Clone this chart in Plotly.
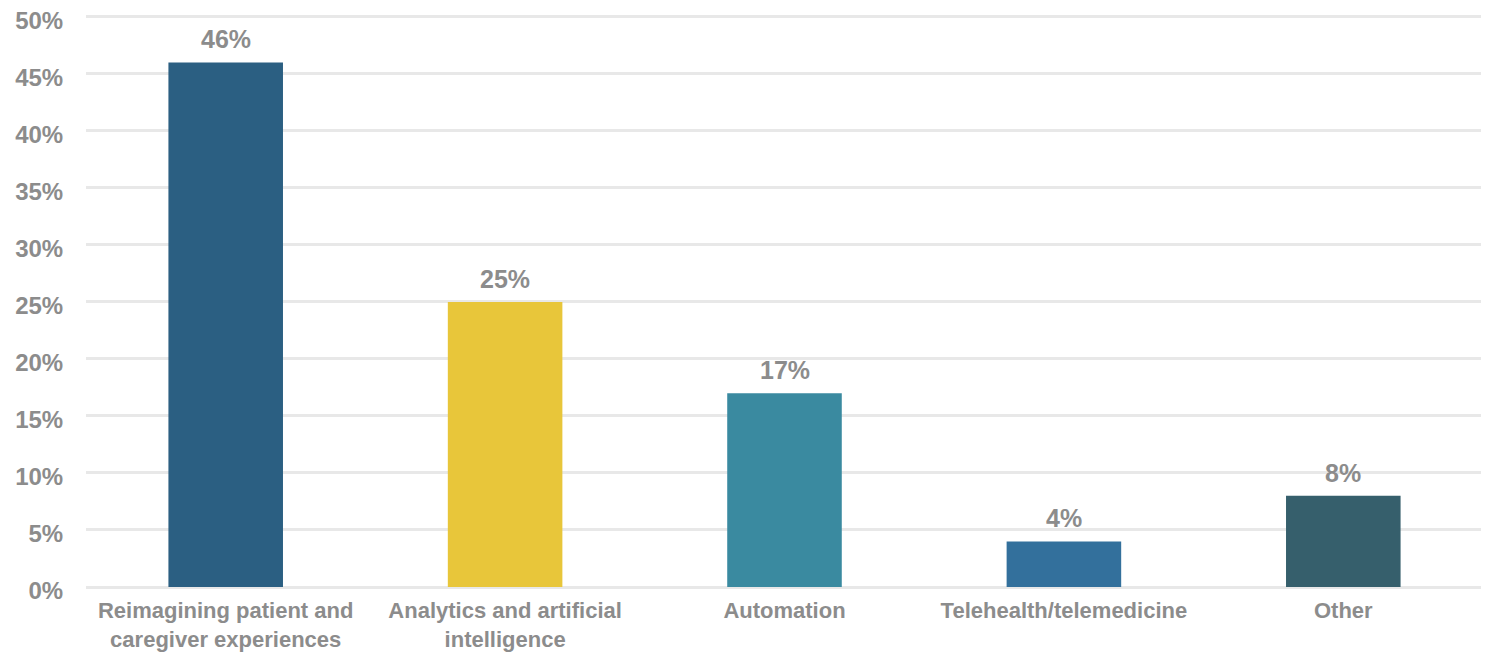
import plotly.graph_objects as go

categories = ["Reimagining patient and<br>caregiver experiences",
              "Analytics and artificial<br>intelligence",
              "Automation",
              "Telehealth/telemedicine",
              "Other"]
values = [46, 25, 17, 4, 8]
labels = ["46%", "25%", "17%", "4%", "8%"]
colors = ["#2B5F82", "#E8C63A", "#3A8AA0", "#33709C", "#365F6C"]
y_ticks = [0, 5, 10, 15, 20, 25, 30, 35, 40, 45, 50]
y_tick_text = [f"{t}%" for t in y_ticks]

font_family = "Liberation Sans, Arial, sans-serif"
grey = "#8C8C8C"

fig = go.Figure()
fig.add_trace(go.Bar(
    x=categories, y=values,
    marker=dict(color=colors, line=dict(width=0)),
    hoverinfo="skip",
))

for c, v, t in zip(categories, values, labels):
    fig.add_annotation(x=c, y=v, text=f"<b>{t}</b>", showarrow=False,
                       yanchor="bottom", yshift=7,
                       font=dict(family=font_family, size=25, color=grey))

fig.update_layout(
    width=1481, height=648,
    margin=dict(l=78, r=6, t=2, b=69),
    paper_bgcolor="white", plot_bgcolor="white",
    bargap=0.59,
    showlegend=False,
    font=dict(family=font_family, color=grey),
)
fig.update_yaxes(
    range=[0, 50.6], tickvals=y_ticks,
    ticktext=[f"<b>{t}</b>" for t in y_tick_text],
    tickfont=dict(family=font_family, size=24, color=grey),
    ticklabeloverflow="allow", ticklabelshift=4,
    showgrid=True, gridcolor="#E8E8E8", gridwidth=3,
    zeroline=True, zerolinecolor="#E8E8E8", zerolinewidth=3,
    ticks="outside", ticklen=17, tickcolor="rgba(0,0,0,0)",
    showline=False, fixedrange=True, automargin=False,
)
fig.update_xaxes(
    tickvals=categories,
    ticktext=[f"<b>{c}</b>" for c in categories],
    tickfont=dict(family=font_family, size=22, color=grey),
    ticks="outside", ticklen=4, tickcolor="rgba(0,0,0,0)",
    showline=False, showgrid=False, fixedrange=True, automargin=False,
)

fig.write_html("out.html", config={"displayModeBar": False})
